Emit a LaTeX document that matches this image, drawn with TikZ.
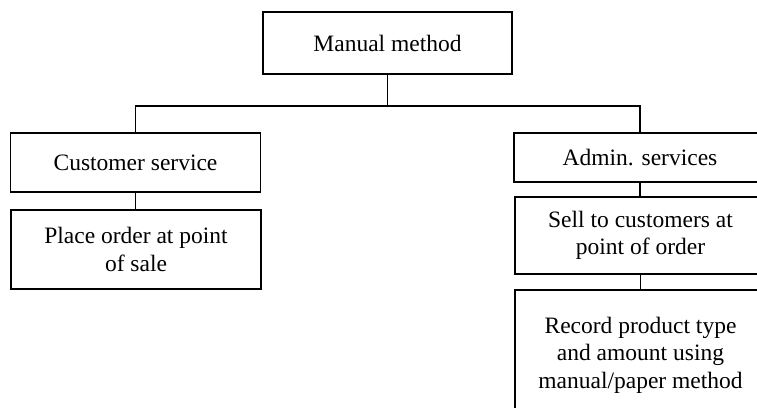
\documentclass[tikz,border=0pt]{standalone}
\usepackage{fontspec}
\setmainfont{Liberation Serif}
\begin{document}
\begin{tikzpicture}[x=1pt,y=-1pt,
  box/.style={draw, line width=1.2pt, rectangle, inner sep=0pt, align=center,
    font=\fontsize{23.5}{27.5}\selectfont},
  link/.style={draw, line width=1.2pt}]
\useasboundingbox (0,0) rectangle (757,407);
\clip (0,0) rectangle (757,407);
\fill[white] (0,0) rectangle (757,407);

% root
\node[box, minimum width=249pt, minimum height=62pt] (top) at (387.5,43) {Manual method};

% left branch
\node[box, minimum width=250pt, minimum height=59pt] (cust) at (135.5,162.5) {Customer service};
\node[box, minimum width=250pt, minimum height=79pt] (place) at (136,249.5) {Place order at point\\of sale};

% right branch
\node[box, minimum width=252pt, minimum height=49pt] (admin) at (640,157.5) {Admin. services};
\node[box, minimum width=251pt, minimum height=77pt] (sell) at (640.5,235.5) {Sell to customers at\\point of order};
\node[box, minimum width=251pt, minimum height=130pt] (record) at (640.5,355) {Record product type\\and amount using\\manual/paper method};

% connectors
\coordinate (bus) at (0,106);
\draw[link] (top.south) -- (top.south |- bus);
\draw[link] (cust.north) |- (admin.north |- bus) -- (admin.north);
\draw[link] (cust.south) -- (cust.south |- place.north);
\draw[link] (admin.south) -- (admin.south |- sell.north);
\draw[link] (sell.south) -- (sell.south |- record.north);
\end{tikzpicture}
\end{document}
